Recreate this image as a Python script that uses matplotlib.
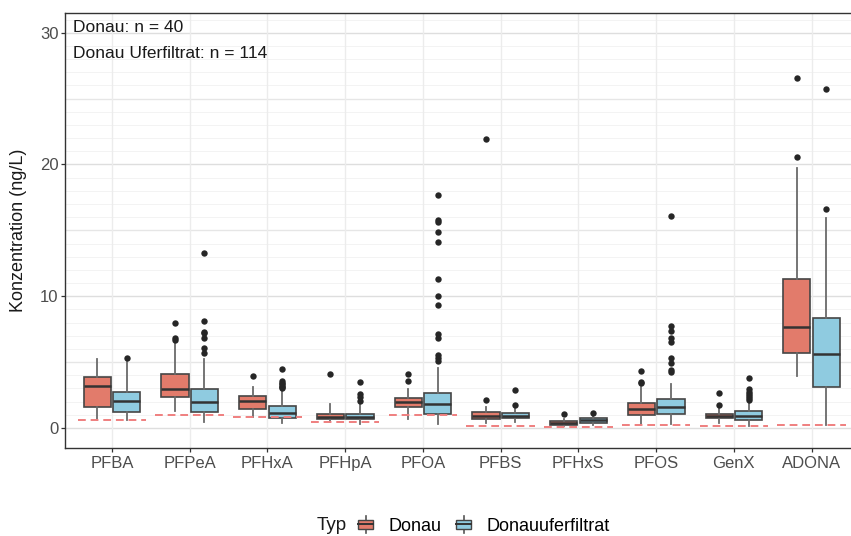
import matplotlib
matplotlib.use("Agg")
import matplotlib.pyplot as plt
from matplotlib.legend_handler import HandlerBase
from matplotlib.lines import Line2D
from matplotlib.patches import Rectangle, Patch

plt.rcParams["font.family"] = ["Liberation Sans", "DejaVu Sans"]

categories = ["PFBA", "PFPeA", "PFHxA", "PFHpA", "PFOA",
              "PFBS", "PFHxS", "PFOS", "GenX", "ADONA"]

# (whisker low, q1, median, q3, whisker high)
donau_stats = [
    (0.60, 1.57, 3.20, 3.86, 5.23),
    (1.31, 2.32, 2.93, 4.07, 6.60),
    (0.86, 1.46, 2.07, 2.42, 3.08),
    (0.48, 0.66, 0.86, 1.09, 1.82),
    (0.66, 1.62, 1.97, 2.30, 2.93),
    (0.35, 0.71, 0.93, 1.19, 1.62),
    (0.15, 0.25, 0.38, 0.50, 0.71),
    (0.28, 0.98, 1.41, 1.87, 3.08),
    (0.40, 0.76, 0.91, 1.06, 1.49),
    (3.94, 5.70, 7.68, 11.34, 19.72),
]
donau_fliers = [
    [],
    [6.67, 6.79, 7.95],
    [3.94],
    [4.09],
    [3.59, 4.09],
    [2.10, 21.97],
    [1.04],
    [3.40, 3.50, 4.34],
    [1.77, 2.63],
    [20.60, 26.54],
]

ufer_stats = [
    (0.60, 1.19, 2.07, 2.70, 4.97),
    (0.48, 1.24, 1.99, 2.95, 5.20),
    (0.35, 0.73, 1.16, 1.67, 2.88),
    (0.30, 0.66, 0.86, 1.09, 1.87),
    (0.28, 1.04, 1.79, 2.63, 4.57),
    (0.43, 0.76, 0.93, 1.11, 1.57),
    (0.20, 0.40, 0.63, 0.73, 0.98),
    (0.28, 1.04, 1.57, 2.20, 3.31),
    (0.15, 0.63, 0.93, 1.26, 1.99),
    (0.23, 3.08, 5.60, 8.31, 15.93),
]
ufer_fliers = [
    [5.30],
    [5.66, 6.04, 6.80, 7.17, 7.30, 8.13, 13.25],
    [3.00, 3.10, 3.20, 3.30, 3.40, 3.60, 4.47],
    [2.07, 2.32, 2.58, 3.46],
    [5.10, 5.30, 5.50, 6.86, 7.16, 9.33, 10.00, 11.27, 14.15, 14.90, 15.60, 15.80, 17.70],
    [1.74, 2.90],
    [1.11],
    [4.27, 4.39, 4.90, 5.28, 6.49, 6.84, 7.37, 7.75, 16.06],
    [2.12, 2.30, 2.45, 2.60, 2.75, 2.93, 3.81],
    [16.64, 25.76],
]

# dashed reference level per compound
loq = [0.60, 0.96, 0.83, 0.43, 0.96, 0.15, 0.10, 0.23, 0.15, 0.23]

legend_labels = ["Donau", "Donauuferfiltrat"]
annotations = ["Donau: n = 40", "Donau Uferfiltrat: n = 114"]

DONAU_COLOR = "#e27b6b"
UFER_COLOR = "#8fcbe0"
EDGE = "#454545"


def _to_bxp(stats, fliers):
    out = []
    for (wlo, q1, med, q3, whi), fl in zip(stats, fliers):
        out.append({"whislo": wlo, "q1": q1, "med": med, "q3": q3,
                    "whishi": whi, "fliers": fl})
    return out


class BoxKeyHandler(HandlerBase):
    def create_artists(self, legend, orig_handle, xdescent, ydescent,
                       width, height, fontsize, trans):
        cx = width / 2 - xdescent
        h = height * 1.25
        y0 = -ydescent + (height - h) / 2
        line = Line2D([cx, cx], [y0, y0 + h], color="#555555", lw=1.2)
        bw, bh = width * 0.9, height * 0.62
        by = -ydescent + (height - bh) / 2
        rect = Rectangle((cx - bw / 2, by), bw, bh,
                         facecolor=orig_handle.get_facecolor(),
                         edgecolor=EDGE, lw=1.0)
        med = Line2D([cx - bw / 2, cx + bw / 2], [by + bh / 2, by + bh / 2],
                     color="#333333", lw=1.4)
        for a in (line, rect, med):
            a.set_transform(trans)
        return [line, rect, med]


fig = plt.figure(figsize=(8.51, 5.36), dpi=100)
ax = fig.add_axes([65.3 / 851, 1 - 447.7 / 536, 793 / 851, 434.7 / 536])

x = list(range(1, len(categories) + 1))
offset = 0.19
width = 0.35

# background grid
for v in range(1, 32):
    if v % 5:
        ax.axhline(v, color="#f3f3f3", lw=0.7, zorder=0)
for v in [5, 15, 25]:
    ax.axhline(v, color="#e6e6e6", lw=1.0, zorder=0)
for v in [0, 10, 20, 30]:
    ax.axhline(v, color="#dedede", lw=1.0, zorder=0)
for xi in x:
    ax.axvline(xi, color="#ececec", lw=1.0, zorder=0)

common = dict(
    widths=width,
    patch_artist=True,
    showcaps=False,
    manage_ticks=False,
    medianprops=dict(color="#333333", lw=1.8),
    whiskerprops=dict(color="#6a6a6a", lw=1.3),
    flierprops=dict(marker="o", markersize=4.6, markerfacecolor="#262626",
                    markeredgecolor="none"),
    zorder=3,
)
ax.bxp(_to_bxp(donau_stats, donau_fliers),
       positions=[xi - offset for xi in x],
       boxprops=dict(facecolor=DONAU_COLOR, edgecolor=EDGE, lw=1.2),
       **common)
ax.bxp(_to_bxp(ufer_stats, ufer_fliers),
       positions=[xi + offset for xi in x],
       boxprops=dict(facecolor=UFER_COLOR, edgecolor=EDGE, lw=1.2),
       **common)

for xi, lv in zip(x, loq):
    ax.plot([xi - 0.44, xi + 0.44], [lv, lv], color="#ef7f7f", lw=1.4,
            ls=(0, (4, 2.5)), zorder=4)

ax.text(0.5, 30.05, annotations[0], fontsize=12.5, color="#1a1a1a",
        ha="left", va="baseline")
ax.text(0.5, 28.1, annotations[1], fontsize=12.5, color="#1a1a1a",
        ha="left", va="baseline")

ax.set_xlim(0.4, 10.6)
ax.set_ylim(-1.5, 31.5)
ax.set_xticks(x)
ax.set_xticklabels(categories)
ax.set_yticks([0, 10, 20, 30])
ax.tick_params(length=3, width=0.9, color="#333333", labelcolor="#4d4d4d",
               labelsize=12)
ax.tick_params(axis="y", pad=2)
ax.tick_params(axis="x", pad=3)
for sp in ax.spines.values():
    sp.set_color("#333333")
    sp.set_linewidth(1.0)

fig.text(19 / 851, 1 - 230 / 536, "Konzentration (ng/L)", rotation=90,
         fontsize=13, color="#1a1a1a", ha="center", va="center")

fig.text(317 / 851, 1 - 526 / 536, "Typ", fontsize=13.5, color="#1a1a1a",
         ha="left", va="center")
handles = [Patch(facecolor=DONAU_COLOR), Patch(facecolor=UFER_COLOR)]
fig.legend(handles, legend_labels, loc="center left",
           bbox_to_anchor=(357 / 851, 1 - 526 / 536), ncol=2, frameon=False,
           fontsize=13, handlelength=0.95, handleheight=0.8,
           handletextpad=0.8, columnspacing=0.75, borderaxespad=0,
           borderpad=0, handler_map={Patch: BoxKeyHandler()})

fig.savefig("out.png", dpi=100)
